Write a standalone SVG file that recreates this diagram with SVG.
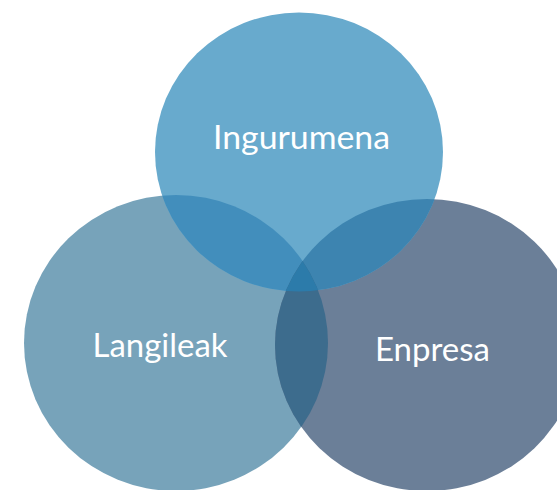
<svg xmlns="http://www.w3.org/2000/svg" width="557" height="490" viewBox="0 0 557 490">
  <style>
    .lbl { font-family: Lato, "Open Sans", "Liberation Sans", sans-serif; font-size: 33px; fill: #ffffff; text-anchor: middle; }
  </style>
  <defs>
    <clipPath id="cTop"><ellipse cx="299" cy="152" rx="144" ry="139.5"/></clipPath>
    <clipPath id="cLeft"><ellipse cx="176" cy="343" rx="152" ry="148"/></clipPath>
    <clipPath id="cRight"><ellipse cx="427" cy="345" rx="152" ry="146"/></clipPath>
  </defs>
  <rect width="557" height="490" fill="#ffffff"/>
  <g id="node-langileak">
    <ellipse cx="176" cy="343" rx="152" ry="148" fill="#77A3BA"/>
    <text class="lbl" x="160" y="357" textLength="135" lengthAdjust="spacingAndGlyphs">Langileak</text>
  </g>
  <g id="node-enpresa">
    <ellipse cx="427" cy="345" rx="152" ry="146" fill="#6B7F98"/>
    <text class="lbl" x="432.5" y="361" textLength="115" lengthAdjust="spacingAndGlyphs">Enpresa</text>
  </g>
  <g id="node-ingurumena">
    <ellipse cx="299" cy="152" rx="144" ry="139.5" fill="#68AACD"/>
    <text class="lbl" x="301.5" y="149" textLength="177" lengthAdjust="spacingAndGlyphs">Ingurumena</text>
  </g>
  <g id="overlaps">
    <ellipse cx="299" cy="152" rx="144" ry="139.5" fill="#428EBC" clip-path="url(#cLeft)"/>
    <ellipse cx="299" cy="152" rx="144" ry="139.5" fill="#3D84B0" clip-path="url(#cRight)"/>
    <ellipse cx="176" cy="343" rx="152" ry="148" fill="#3D6C8D" clip-path="url(#cRight)"/>
    <g clip-path="url(#cTop)">
      <ellipse cx="176" cy="343" rx="152" ry="148" fill="#2C7BAA" clip-path="url(#cRight)"/>
    </g>
  </g>
</svg>
